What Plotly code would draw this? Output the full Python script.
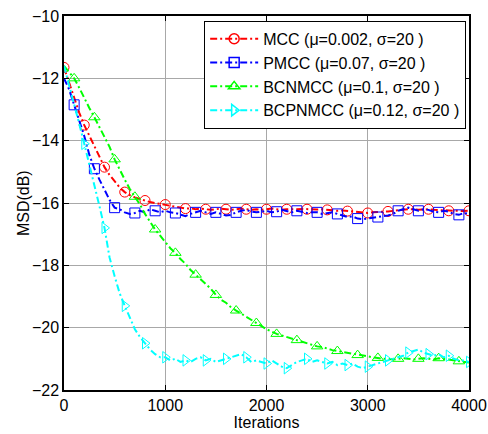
import plotly.graph_objects as go

iterations = list(range(0, 4001, 50))

mcc = [-11.65, -12.15, -12.6, -13.1, -13.5, -13.85, -14.2, -14.55, -14.85, -15.1,
       -15.3, -15.5, -15.65, -15.75, -15.82, -15.88, -15.92, -15.97, -16.0, -16.03,
       -16.05, -16.08, -16.12, -16.15, -16.18, -16.17, -16.2, -16.18, -16.2, -16.22,
       -16.2, -16.18, -16.2, -16.22, -16.2, -16.18, -16.2, -16.22, -16.2, -16.22,
       -16.2, -16.18, -16.2, -16.22, -16.2, -16.21, -16.2, -16.19, -16.2, -16.22,
       -16.21, -16.2, -16.22, -16.24, -16.25, -16.24, -16.26, -16.28, -16.3, -16.3,
       -16.32, -16.3, -16.3, -16.28, -16.27, -16.25, -16.22, -16.2, -16.2, -16.2,
       -16.22, -16.21, -16.2, -16.22, -16.23, -16.24, -16.25, -16.24, -16.25, -16.26,
       -16.25]

pmcc = [-12.0, -12.35, -12.85, -13.35, -13.85, -14.45, -14.9, -15.25, -15.55, -15.9,
        -16.15, -16.2, -16.3, -16.35, -16.32, -16.25, -16.3, -16.2, -16.25, -16.3,
        -16.25, -16.3, -16.32, -16.38, -16.42, -16.35, -16.3, -16.25, -16.3, -16.35,
        -16.3, -16.35, -16.4, -16.38, -16.3, -16.25, -16.22, -16.28, -16.3, -16.28,
        -16.25, -16.3, -16.28, -16.22, -16.25, -16.3, -16.25, -16.28, -16.32, -16.3,
        -16.3, -16.35, -16.32, -16.3, -16.35, -16.4, -16.45, -16.43, -16.5, -16.52,
        -16.5, -16.48, -16.45, -16.42, -16.4, -16.35, -16.25, -16.2, -16.15, -16.2,
        -16.25, -16.2, -16.22, -16.28, -16.3, -16.25, -16.28, -16.35, -16.38, -16.32,
        -16.35]

bcnmcc = [-11.6, -11.8, -12.0, -12.3, -12.65, -12.95, -13.25, -13.55, -13.85, -14.2,
          -14.6, -14.95, -15.25, -15.55, -15.8, -16.05, -16.35, -16.6, -16.85, -17.05,
          -17.25, -17.45, -17.6, -17.8, -17.95, -18.15, -18.3, -18.45, -18.6, -18.75,
          -18.95, -19.1, -19.2, -19.35, -19.45, -19.55, -19.65, -19.75, -19.85, -19.95,
          -20.05, -20.12, -20.2, -20.25, -20.3, -20.35, -20.4, -20.45, -20.5, -20.55,
          -20.6, -20.62, -20.68, -20.72, -20.75, -20.78, -20.82, -20.85, -20.88, -20.9,
          -20.92, -20.95, -20.97, -21.0, -21.0, -21.02, -21.0, -20.98, -21.0, -21.02,
          -21.0, -20.98, -21.0, -21.02, -20.98, -21.0, -21.02, -21.05, -21.08, -21.1,
          -21.12]

bcpnmcc = [-11.6, -12.2, -12.85, -13.45, -14.1, -14.75, -15.4, -16.1, -16.8, -17.75,
           -18.35, -18.9, -19.3, -19.7, -20.05, -20.3, -20.5, -20.7, -20.85, -20.95,
           -20.95, -21.05, -21.0, -21.1, -21.05, -21.1, -21.0, -20.95, -21.05, -21.0,
           -21.1, -21.05, -21.0, -20.95, -20.9, -20.85, -20.95, -21.1, -21.05, -21.1,
           -21.15, -21.05, -21.15, -21.25, -21.3, -21.2, -21.1, -21.05, -21.0, -21.1,
           -21.05, -21.1, -21.15, -21.1, -21.2, -21.15, -21.2, -21.15, -21.25, -21.3,
           -21.25, -21.2, -21.15, -21.1, -21.05, -21.0, -20.95, -20.9, -20.8, -20.75,
           -20.7, -20.8, -20.85, -20.9, -20.85, -20.95, -20.9, -21.0, -21.05, -21.05,
           -21.1]

names = ["MCC (\u03bc=0.002, \u03c3=20 )", "PMCC (\u03bc=0.07, \u03c3=20 )",
         "BCNMCC (\u03bc=0.1, \u03c3=20 )", "BCPNMCC (\u03bc=0.12, \u03c3=20 )"]
series = [mcc, pmcc, bcnmcc, bcpnmcc]
colors = ["#ff0000", "#0000ff", "#00ff00", "#00ffff"]
symbols = ["circle-open", "square-open", "triangle-up-open", "triangle-right-open"]
marker_start = [0, 2, 2, 4]   # index of first marker (step of 4 = 200 iterations)

x_ticks = [0, 1000, 2000, 3000, 4000]
y_ticks = [-22, -20, -18, -16, -14, -12, -10]

FONT = "Liberation Sans, Arial"
fig = go.Figure()
dash = "7px,3px,2px,3px"
for name, ys, c, sym, ms in zip(names, series, colors, symbols, marker_start):
    fig.add_trace(go.Scatter(x=iterations, y=ys, mode="lines",
                             line=dict(color=c, width=2, dash=dash),
                             showlegend=False, hoverinfo="skip"))
    mx = iterations[ms::4]
    my = ys[ms::4]
    fig.add_trace(go.Scatter(x=mx, y=my, mode="markers",
                             marker=dict(symbol=sym, size=10, color=c,
                                         line=dict(width=1, color=c)),
                             showlegend=False, cliponaxis=True))
    fig.add_trace(go.Scatter(x=[None], y=[None], mode="lines+markers", name=name,
                             line=dict(color=c, width=2, dash=dash),
                             marker=dict(symbol=sym, size=10, color=c,
                                         line=dict(width=1.5, color=c))))

axis_common = dict(showline=True, linecolor="black", linewidth=1.5, mirror="ticks",
                   ticks="inside", ticklen=5, tickcolor="black",
                   showgrid=True, gridcolor="#a8a8a8", gridwidth=1,
                   zeroline=False, automargin=False,
                   tickfont=dict(family=FONT, size=16, color="black"))

fig.update_xaxes(range=[0, 4000], tickvals=x_ticks,
                 title=dict(text="Iterations", standoff=0,
                            font=dict(family=FONT, size=16, color="black")),
                 **axis_common)
fig.update_yaxes(range=[-22, -10], tickvals=y_ticks, **axis_common)

fig.add_annotation(text="MSD(dB)", xref="paper", yref="paper", x=-0.101, y=0.5,
                   xanchor="center", yanchor="middle", textangle=-90, showarrow=False,
                   font=dict(family=FONT, size=16, color="black"))

fig.update_layout(
    width=488, height=434,
    margin=dict(l=64, r=19, t=16, b=44),
    plot_bgcolor="white", paper_bgcolor="white",
    legend=dict(x=0.993, y=0.987, xanchor="right", yanchor="top",
                bgcolor="white", bordercolor="black", borderwidth=1,
                font=dict(family=FONT, size=16, color="black"),
                tracegroupgap=0, itemwidth=48),
    showlegend=True,
)

fig.write_html("out.html")
